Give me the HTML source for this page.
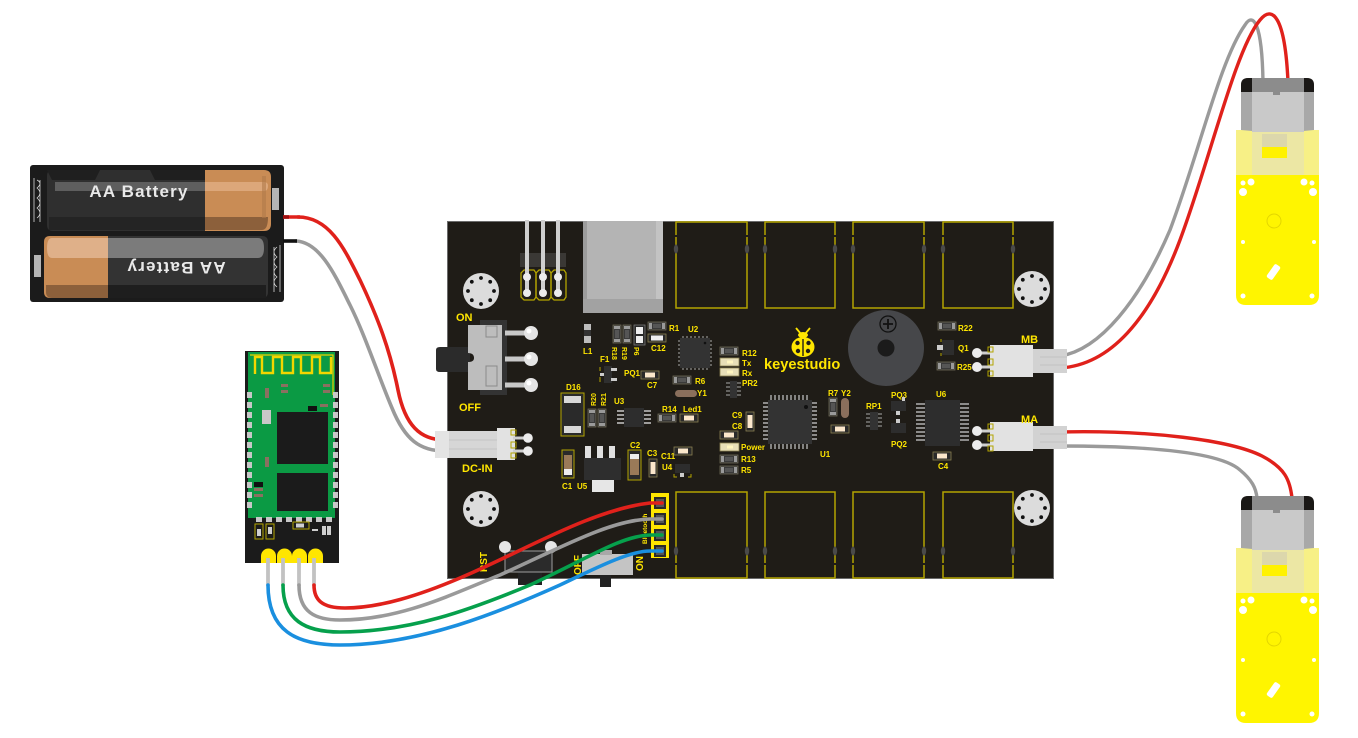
<!DOCTYPE html>
<html><head><meta charset="utf-8"><style>
html,body{margin:0;padding:0;background:#fff;}
svg{display:block;}
text{font-family:"Liberation Sans",sans-serif;}
.y{fill:#ffe600;font-weight:bold;font-size:8px;}
.yl{fill:#ffe600;font-weight:bold;font-size:11px;}
</style></head><body>
<svg width="1358" height="738" viewBox="0 0 1358 738" xmlns="http://www.w3.org/2000/svg">
<defs>
<g id="hole">
<circle r="18" fill="#dcdcdc"/>
<g fill="#111">
<circle cx="13" cy="0" r="1.9"/><circle cx="9.2" cy="9.2" r="1.9"/><circle cx="0" cy="13" r="1.9"/><circle cx="-9.2" cy="9.2" r="1.9"/>
<circle cx="-13" cy="0" r="1.9"/><circle cx="-9.2" cy="-9.2" r="1.9"/><circle cx="0" cy="-13" r="1.9"/><circle cx="9.2" cy="-9.2" r="1.9"/>
</g>
</g>
<g id="res">
<rect x="0" y="0" width="18" height="8" fill="#3a3a3a" stroke="#6e6a55" stroke-width="0.8"/>
<rect x="1" y="1" width="3" height="6" fill="#9a9a9a"/><rect x="14" y="1" width="3" height="6" fill="#9a9a9a"/>
<rect x="5" y="2" width="8" height="4" fill="#555"/>
</g>
<g id="resv">
<rect x="0" y="0" width="8" height="18" fill="#3a3a3a" stroke="#6e6a55" stroke-width="0.8"/>
<rect x="1" y="1" width="6" height="3" fill="#9a9a9a"/><rect x="1" y="14" width="6" height="3" fill="#9a9a9a"/>
<rect x="2" y="5" width="4" height="8" fill="#555"/>
</g>
<g id="cap">
<rect x="0" y="0" width="18" height="8" fill="#2a2a2a" stroke="#8a8050" stroke-width="0.8"/>
<rect x="4" y="1.5" width="10" height="5" fill="#fbe7cb"/>
</g>
<g id="led">
<rect x="0" y="0" width="19" height="8" fill="#e8dfb8" stroke="#8a8050" stroke-width="0.8"/>
<rect x="7" y="2.5" width="6" height="3" fill="#fff6c0"/>
</g>
<g id="motor">
<rect x="1236" y="130" width="83" height="46" fill="#f7f086"/>
<path d="M1236,175 H1319 V295 Q1319,305 1309,305 H1246 Q1236,305 1236,295 Z" fill="#fff500"/>
<path d="M1241,130 V85 Q1241,78 1248,78 H1307 Q1314,78 1314,85 V130 Q1277,134 1241,130 Z" fill="#a8a8a8"/>
<rect x="1252" y="92" width="52" height="40" fill="#c9c9c9"/>
<rect x="1252" y="78" width="52" height="14" fill="#8c8c8c"/>
<path d="M1241,92 V85 Q1241,78 1248,78 H1252 V92 Z" fill="#1a1816"/>
<path d="M1314,92 V85 Q1314,78 1307,78 H1304 V92 Z" fill="#1a1816"/>
<rect x="1273" y="92" width="7" height="3" fill="#8c8c8c"/>
<rect x="1252" y="132" width="52" height="43" fill="#ece7a4"/>
<rect x="1262" y="134" width="25" height="13" fill="#dcd7ac"/>
<rect x="1262" y="147" width="25" height="11" fill="#fff200"/>
<g fill="#fff">
<circle cx="1243" cy="183" r="2.5"/><circle cx="1251" cy="182" r="3.5"/><circle cx="1243" cy="192" r="4"/>
<circle cx="1304" cy="182" r="3.5"/><circle cx="1312" cy="183" r="2.5"/><circle cx="1313" cy="192" r="4"/>
<circle cx="1243" cy="242" r="2"/><circle cx="1314" cy="242" r="2"/>
<circle cx="1243" cy="296" r="2.5"/><circle cx="1312" cy="296" r="2.5"/>
<rect x="1270" y="264" width="7" height="16" rx="2" transform="rotate(35 1273.5 272)"/>
</g>
<circle cx="1274" cy="221" r="7" fill="none" stroke="#e3d600" stroke-width="1"/>
</g>
</defs>

<!-- BOARD -->
<rect x="447.5" y="221.5" width="606" height="357" fill="#1f1c17" stroke="#6b6b6b" stroke-width="1"/>

<g fill="none" stroke="#b3a400" stroke-width="1.5">
<rect x="676" y="222" width="71" height="86"/><rect x="765" y="222" width="70" height="86"/>
<rect x="853" y="222" width="71" height="86"/><rect x="943" y="222" width="70" height="86"/>
<rect x="676" y="492" width="71" height="86"/><rect x="765" y="492" width="70" height="86"/>
<rect x="853" y="492" width="71" height="86"/><rect x="943" y="492" width="70" height="86"/>
</g>
<g fill="#4a4a4a">
<ellipse cx="676" cy="249" rx="2.2" ry="4.5"/><ellipse cx="747" cy="249" rx="2.2" ry="4.5"/>
<ellipse cx="765" cy="249" rx="2.2" ry="4.5"/><ellipse cx="835" cy="249" rx="2.2" ry="4.5"/>
<ellipse cx="853" cy="249" rx="2.2" ry="4.5"/><ellipse cx="924" cy="249" rx="2.2" ry="4.5"/>
<ellipse cx="943" cy="249" rx="2.2" ry="4.5"/><ellipse cx="1013" cy="249" rx="2.2" ry="4.5"/>
<ellipse cx="676" cy="551" rx="2.2" ry="4.5"/><ellipse cx="747" cy="551" rx="2.2" ry="4.5"/>
<ellipse cx="765" cy="551" rx="2.2" ry="4.5"/><ellipse cx="835" cy="551" rx="2.2" ry="4.5"/>
<ellipse cx="853" cy="551" rx="2.2" ry="4.5"/><ellipse cx="924" cy="551" rx="2.2" ry="4.5"/>
<ellipse cx="943" cy="551" rx="2.2" ry="4.5"/><ellipse cx="1013" cy="551" rx="2.2" ry="4.5"/>
</g>
<g fill="#1f1c17">
<rect x="674" y="235" width="4" height="2"/><rect x="745" y="235" width="4" height="2"/>
<rect x="763" y="235" width="4" height="2"/><rect x="833" y="235" width="4" height="2"/>
<rect x="851" y="235" width="4" height="2"/><rect x="922" y="235" width="4" height="2"/>
<rect x="941" y="235" width="4" height="2"/><rect x="1011" y="235" width="4" height="2"/>
<rect x="674" y="563" width="4" height="2"/><rect x="745" y="563" width="4" height="2"/>
<rect x="763" y="563" width="4" height="2"/><rect x="833" y="563" width="4" height="2"/>
<rect x="851" y="563" width="4" height="2"/><rect x="922" y="563" width="4" height="2"/>
<rect x="941" y="563" width="4" height="2"/><rect x="1011" y="563" width="4" height="2"/>
</g>

<use href="#hole" x="481" y="291"/>
<use href="#hole" x="481" y="509"/>
<use href="#hole" x="1032" y="289"/>
<use href="#hole" x="1032" y="508"/>

<rect x="520" y="253" width="46" height="14" fill="#3a3835"/>
<g fill="none" stroke="#b3a400" stroke-width="1.3">
<path d="M524,270 H534 L536,273 V297 L534,300 H524 L521,297 V273 Z"/>
<path d="M539,270 H549 L551,273 V297 L549,300 H539 L536,297 V273 Z"/>
<path d="M554,270 H564 L566,273 V297 L564,300 H554 L551,297 V273 Z"/>
</g>
<g stroke="#cfcfcf" stroke-width="4">
<line x1="527" y1="220" x2="527" y2="293"/><line x1="543" y1="220" x2="543" y2="293"/><line x1="558" y1="220" x2="558" y2="293"/>
</g>
<g fill="#ececec">
<circle cx="527" cy="277" r="4"/><circle cx="527" cy="293" r="4"/>
<circle cx="543" cy="277" r="4"/><circle cx="543" cy="293" r="4"/>
<circle cx="558" cy="277" r="4"/><circle cx="558" cy="293" r="4"/>
</g>

<rect x="583" y="221" width="80" height="92" fill="#b4b4b4"/>
<rect x="583" y="221" width="4" height="92" fill="#9c9c9c"/>
<rect x="656" y="221" width="7" height="92" fill="#c3c3c3"/>
<rect x="583" y="299" width="80" height="14" fill="#a2a2a2"/>

<rect x="480" y="320" width="27" height="75" fill="#333"/>
<path d="M436,350 Q436,347 440,347 H470 V372 H440 Q436,372 436,369 Z" fill="#2b2b2b"/>
<path d="M468,325 H502 V390 H468 V362 Q474,362 474,358 Q474,353 468,353 Z" fill="#bdbdbd"/>
<rect x="486" y="326" width="11" height="11" fill="none" stroke="#8a8a8a" stroke-width="1"/>
<rect x="486" y="366" width="11" height="20" fill="none" stroke="#8a8a8a" stroke-width="1"/>
<g stroke="#c8c8c8" stroke-width="5"><line x1="505" y1="333" x2="528" y2="333"/><line x1="505" y1="359" x2="528" y2="359"/><line x1="505" y1="385" x2="528" y2="385"/></g>
<g fill="#e4e4e4"><circle cx="531" cy="333" r="7"/><circle cx="531" cy="359" r="7"/><circle cx="531" cy="385" r="7"/></g>
<g fill="#fff"><circle cx="529" cy="331" r="2.5"/><circle cx="529" cy="357" r="2.5"/><circle cx="529" cy="383" r="2.5"/></g>
<text x="456" y="321" class="yl">ON</text>
<text x="459" y="411" class="yl">OFF</text>

<rect x="584" y="324" width="7" height="19" fill="#bdbdbd"/><rect x="584" y="330" width="7" height="6" fill="#333"/>
<text x="583" y="354" class="y">L1</text>
<use href="#resv" x="613" y="325"/><use href="#resv" x="623" y="325"/>
<rect x="634" y="325" width="11" height="20" fill="#2a2a2a" stroke="#777" stroke-width="0.8"/>
<rect x="636" y="327" width="7" height="7" fill="#eee"/><rect x="636" y="336" width="7" height="7" fill="#eee"/>
<text class="y" transform="translate(612,347) rotate(90)" style="font-size:7px">R18</text>
<text class="y" transform="translate(622,347) rotate(90)" style="font-size:7px">R19</text>
<text class="y" transform="translate(634,347) rotate(90)" style="font-size:7px">P6</text>
<use href="#res" x="648" y="322"/><text x="669" y="331" class="y">R1</text>
<rect x="648" y="334" width="18" height="8" fill="#2a2a2a" stroke="#8a8050" stroke-width="0.8"/><rect x="651" y="335.5" width="12" height="5" fill="#eee"/>
<text x="651" y="351" class="y">C12</text>
<rect x="680" y="338" width="30" height="30" fill="#333"/>
<g stroke="#aaa" stroke-width="1">
<path d="M683,336 V338 M687,336 V338 M691,336 V338 M695,336 V338 M699,336 V338 M703,336 V338 M707,336 V338"/>
<path d="M683,368 V370 M687,368 V370 M691,368 V370 M695,368 V370 M699,368 V370 M703,368 V370 M707,368 V370"/>
<path d="M678,341 H680 M678,345 H680 M678,349 H680 M678,353 H680 M678,357 H680 M678,361 H680 M678,365 H680"/>
<path d="M710,341 H712 M710,345 H712 M710,349 H712 M710,353 H712 M710,357 H712 M710,361 H712 M710,365 H712"/>
</g>
<circle cx="705" cy="343" r="1.3" fill="#111"/>
<text x="688" y="332" class="y">U2</text>
<use href="#res" x="720" y="347"/><text x="742" y="356" class="y">R12</text>
<use href="#led" x="720" y="358"/><text x="742" y="366" class="y">Tx</text>
<use href="#led" x="720" y="368"/><text x="742" y="376" class="y">Rx</text>
<rect x="730" y="381" width="7" height="17" fill="#333"/>
<g stroke="#aaa" stroke-width="1"><path d="M726,383 H730 M726,387 H730 M726,391 H730 M726,395 H730 M737,383 H741 M737,387 H741 M737,391 H741 M737,395 H741"/></g>
<text x="742" y="386" class="y">PR2</text>
<text x="600" y="362" class="y">F1</text>
<rect x="604" y="366" width="8" height="17" fill="#2f2f2f"/>
<path d="M600,367 V371 M600,377 V382" stroke="#b3a400" stroke-width="1"/>
<rect x="611" y="368" width="6" height="3" fill="#ccc"/><rect x="611" y="378" width="6" height="3" fill="#ccc"/><rect x="600" y="373" width="4" height="3" fill="#ccc"/>
<text x="624" y="376" class="y">PQ1</text>
<use href="#cap" x="641" y="371"/><text x="647" y="388" class="y">C7</text>
<use href="#res" x="673" y="376"/><text x="695" y="384" class="y">R6</text>
<rect x="675" y="390" width="22" height="7" rx="3.5" fill="#8a6f5c"/>
<text x="697" y="396" class="y">Y1</text>
<text x="566" y="390" class="y">D16</text>
<rect x="561" y="393" width="23" height="43" fill="#2a2a2a" stroke="#b3a400" stroke-width="1"/>
<rect x="564" y="396" width="17" height="7" fill="#d8d8d8"/><rect x="564" y="426" width="17" height="7" fill="#d8d8d8"/>
<use href="#resv" x="588" y="409"/><use href="#resv" x="598" y="409"/>
<text class="y" transform="translate(596,406) rotate(-90)" style="font-size:7px">R20</text>
<text class="y" transform="translate(606,406) rotate(-90)" style="font-size:7px">R21</text>
<text x="614" y="404" class="y">U3</text>
<rect x="624" y="408" width="20" height="19" fill="#2d2d2d"/>
<g stroke="#c8c8c8" stroke-width="1.6"><path d="M617,411 H624 M617,415 H624 M617,419 H624 M617,423 H624 M644,411 H651 M644,415 H651 M644,419 H651 M644,423 H651"/></g>
<text x="662" y="412" class="y">R14</text><text x="683" y="412" class="y">Led1</text>
<use href="#res" x="658" y="414"/><use href="#cap" x="680" y="414"/>
<rect x="746" y="412" width="8" height="19" fill="#2a2a2a" stroke="#8a8050" stroke-width="0.8"/><rect x="747.5" y="415" width="5" height="13" fill="#fbe7cb"/>
<text x="732" y="418" class="y">C9</text><text x="732" y="429" class="y">C8</text>
<use href="#cap" x="720" y="431"/>
<use href="#led" x="720" y="443"/><text x="741" y="450" class="y">Power</text>
<use href="#res" x="720" y="455"/><text x="741" y="462" class="y">R13</text>
<use href="#res" x="720" y="466"/><text x="741" y="473" class="y">R5</text>
<rect x="768" y="400" width="44" height="44" fill="#333"/>
<g stroke="#b0b0b0" stroke-width="1.4">
<path d="M771,395 V400 M775,395 V400 M779,395 V400 M783,395 V400 M787,395 V400 M791,395 V400 M795,395 V400 M799,395 V400 M803,395 V400 M807,395 V400"/>
<path d="M771,444 V449 M775,444 V449 M779,444 V449 M783,444 V449 M787,444 V449 M791,444 V449 M795,444 V449 M799,444 V449 M803,444 V449 M807,444 V449"/>
<path d="M763,403 H768 M763,407 H768 M763,411 H768 M763,415 H768 M763,419 H768 M763,423 H768 M763,427 H768 M763,431 H768 M763,435 H768 M763,439 H768"/>
<path d="M812,403 H817 M812,407 H817 M812,411 H817 M812,415 H817 M812,419 H817 M812,423 H817 M812,427 H817 M812,431 H817 M812,435 H817 M812,439 H817"/>
</g>
<circle cx="806" cy="407" r="2" fill="#111"/>
<text x="820" y="457" class="y">U1</text>
<text x="828" y="396" class="y">R7</text><text x="841" y="396" class="y">Y2</text>
<use href="#resv" x="829" y="398"/>
<rect x="841" y="398" width="8" height="20" rx="4" fill="#8a6f5c"/>
<use href="#cap" x="831" y="425"/>
<text x="866" y="409" class="y">RP1</text>
<rect x="870" y="412" width="8" height="18" fill="#333"/>
<g stroke="#aaa" stroke-width="1"><path d="M866,414 H870 M866,418 H870 M866,422 H870 M866,426 H870 M878,414 H882 M878,418 H882 M878,422 H882 M878,426 H882"/></g>
<text x="891" y="398" class="y">PQ3</text>
<rect x="891" y="401" width="15" height="10" fill="#2d2d2d"/><rect x="896" y="411" width="4" height="4" fill="#ccc"/><rect x="902" y="397" width="3" height="4" fill="#ccc"/>
<rect x="891" y="423" width="15" height="10" fill="#2d2d2d"/><rect x="896" y="419" width="4" height="4" fill="#ccc"/>
<text x="891" y="447" class="y">PQ2</text>
<text x="936" y="397" class="y">U6</text>
<rect x="925" y="400" width="35" height="46" fill="#2d2d2d"/>
<g stroke="#b0b0b0" stroke-width="1.6">
<path d="M916,404 H925 M916,408 H925 M916,412 H925 M916,416 H925 M916,420 H925 M916,424 H925 M916,428 H925 M916,432 H925 M916,436 H925 M916,440 H925"/>
<path d="M960,404 H969 M960,408 H969 M960,412 H969 M960,416 H969 M960,420 H969 M960,424 H969 M960,428 H969 M960,432 H969 M960,436 H969 M960,440 H969"/>
</g>
<use href="#cap" x="933" y="452"/><text x="938" y="469" class="y">C4</text>
<use href="#res" x="938" y="322"/><text x="958" y="331" class="y">R22</text>
<rect x="942" y="340" width="12" height="15" fill="#2d2d2d"/><rect x="937" y="345" width="6" height="5" fill="#ccc"/>
<path d="M941,339 V342 M941,353 V356" stroke="#b3a400" stroke-width="1"/>
<text x="958" y="351" class="y">Q1</text>
<use href="#res" x="937" y="362"/><text x="957" y="370" class="y">R25</text>
<rect x="562" y="450" width="12" height="28" fill="#2a2a2a" stroke="#b3a400" stroke-width="1"/>
<rect x="564" y="455" width="8" height="18" fill="#9a7a58"/><rect x="564" y="469" width="8" height="6" fill="#eee"/>
<text x="562" y="489" class="y">C1</text><text x="577" y="489" class="y">U5</text>
<g fill="#e0e0e0"><rect x="585" y="446" width="6" height="13"/><rect x="597" y="446" width="6" height="13"/><rect x="609" y="446" width="6" height="13"/></g>
<rect x="584" y="458" width="37" height="22" fill="#2e2e2e"/>
<rect x="592" y="480" width="22" height="12" fill="#e6e6e6"/>
<text x="630" y="448" class="y">C2</text>
<rect x="628" y="450" width="13" height="30" fill="#2a2a2a" stroke="#b3a400" stroke-width="1"/>
<rect x="630" y="455" width="9" height="20" fill="#9a7a58"/><rect x="630" y="454" width="9" height="5" fill="#eee"/>
<text x="647" y="456" class="y">C3</text>
<rect x="649" y="459" width="8" height="18" fill="#2a2a2a" stroke="#8a8050" stroke-width="0.8"/><rect x="650.5" y="462" width="5" height="12" fill="#fbe7cb"/>
<text x="661" y="459" class="y">C11</text><text x="662" y="470" class="y">U4</text>
<use href="#cap" x="674" y="447"/>
<rect x="675" y="464" width="15" height="9" fill="#2d2d2d"/><rect x="680" y="473" width="4" height="4" fill="#ccc"/>
<path d="M674,474 V477 H677 M691,474 V477 H688" stroke="#b3a400" stroke-width="1" fill="none"/>

<circle cx="886" cy="348" r="38" fill="#46474a"/>
<circle cx="886" cy="348" r="8.5" fill="#1b1b1b"/>
<circle cx="888" cy="324" r="8" fill="none" stroke="#111" stroke-width="1.3"/>
<path d="M883,324 H893 M888,319 V329" stroke="#111" stroke-width="1.8"/>
<g fill="#ffe600">
<path d="M796,328 L801,334 M810,328 L805,334" stroke="#ffe600" stroke-width="1.8"/>
<ellipse cx="803" cy="335" rx="5" ry="3"/>
<ellipse cx="803" cy="347" rx="11.5" ry="10"/>
</g>
<g fill="#1f1c17">
<circle cx="797.5" cy="343" r="2.2"/><circle cx="808.5" cy="343" r="2.2"/>
<circle cx="798" cy="351" r="2.2"/><circle cx="808" cy="351" r="2.2"/>
<rect x="802.3" y="339" width="1.4" height="17"/>
</g>
<text x="764" y="369" style="font-size:14.6px;font-weight:bold;fill:#ffe600">keyestudio</text>

<rect x="518" y="570" width="24" height="15" fill="#222"/>
<rect x="505" y="551" width="47" height="21" fill="#2b2b2b" stroke="#8a8a8a" stroke-width="1.2"/>
<circle cx="505" cy="547" r="6" fill="#e6e6e6"/><circle cx="551" cy="547" r="6" fill="#e6e6e6"/>
<text class="y" transform="translate(487,572) rotate(-90)" style="font-size:10px">RST</text>
<rect x="600" y="573" width="11" height="14" fill="#222"/>
<rect x="582" y="554" width="51" height="21" fill="#c4c4c4"/>
<rect x="600" y="550" width="12" height="5" fill="#a8a8a8"/>
<text class="y" transform="translate(581,575) rotate(-90)" style="font-size:10px">OFF</text>
<text class="y" transform="translate(643,571) rotate(-90)" style="font-size:10px">ON</text>
<text class="y" transform="translate(647,544) rotate(-90)" style="font-size:6.5px">Bluetooth</text>
<rect x="651" y="493" width="18" height="65" fill="#ffe600"/>
<g fill="#2a2a2a"><rect x="654" y="497" width="12" height="12"/><rect x="654" y="513" width="12" height="12"/><rect x="654" y="529" width="12" height="12"/><rect x="654" y="545" width="12" height="12"/></g>
<g fill="#555"><rect x="656" y="499" width="8" height="8"/><rect x="656" y="515" width="8" height="8"/><rect x="656" y="531" width="8" height="8"/><rect x="656" y="547" width="8" height="8"/></g>

<g fill="none" stroke-width="3.6" stroke-linecap="round">
<path d="M296,241 C320,242 335,275 350,305 C365,335 378,375 392,408 C405,440 420,451 445,451" stroke="#9a9a9a"/>
<path d="M298,217 C330,217 345,250 360,280 C378,318 390,350 398,390 C405,425 420,440 445,440" stroke="#e0211b"/>
</g>

<rect x="435" y="431" width="62" height="27" fill="#d6d6d6"/>
<rect x="435" y="431" width="14" height="27" fill="#e4e4e4"/>
<path d="M449,440 H497 M449,449 H497" stroke="#c4c4c4" stroke-width="1"/>
<path d="M497,428 H515 V460 H497 Z" fill="#e2e2e2"/>
<g fill="none" stroke="#b3a400" stroke-width="1"><rect x="511" y="430" width="5" height="5"/><rect x="511" y="442" width="5" height="6"/><rect x="511" y="453" width="5" height="5"/></g>
<g stroke="#cfcfcf" stroke-width="3"><line x1="513" y1="438" x2="527" y2="438"/><line x1="513" y1="451" x2="527" y2="451"/></g>
<g fill="#ececec"><circle cx="528" cy="438" r="4.8"/><circle cx="528" cy="451" r="4.8"/></g>
<text x="462" y="472" class="yl">DC-IN</text>

<g fill="none" stroke-width="3.4" stroke-linecap="round">
<path d="M1060,356 C1100,350 1140,300 1170,230 C1200,150 1220,60 1245,25 C1253,12 1262,22 1263,82" stroke="#9a9a9a"/>
<path d="M1060,368 C1110,365 1150,320 1180,240 C1210,160 1235,50 1260,20 C1272,5 1285,15 1288,82" stroke="#e0211b"/>
<path d="M1060,432 C1150,430 1230,440 1262,456 C1285,468 1290,480 1292,498" stroke="#e0211b"/>
<path d="M1060,446 C1150,446 1220,452 1240,470 C1252,480 1256,488 1257,498" stroke="#9a9a9a"/>
</g>

<g>
<g stroke="#cfcfcf" stroke-width="3"><line x1="977" y1="353" x2="995" y2="353"/><line x1="977" y1="367" x2="995" y2="367"/></g>
<g fill="#ececec"><circle cx="977" cy="353" r="5"/><circle cx="977" cy="367" r="5"/></g>
<path d="M990,345 H1033 V377 H990 Z" fill="#e2e2e2"/>
<rect x="1033" y="349" width="34" height="24" fill="#d2d2d2"/>
<path d="M1040,357 H1067 M1040,365 H1067" stroke="#c2c2c2" stroke-width="1"/>
<g fill="none" stroke="#b3a400" stroke-width="1"><rect x="988" y="347" width="5" height="5"/><rect x="988" y="359" width="5" height="6"/><rect x="988" y="371" width="5" height="5"/></g>
<text x="1021" y="343" class="yl">MB</text>
</g>
<g>
<g stroke="#cfcfcf" stroke-width="3"><line x1="977" y1="431" x2="995" y2="431"/><line x1="977" y1="445" x2="995" y2="445"/></g>
<g fill="#ececec"><circle cx="977" cy="431" r="5"/><circle cx="977" cy="445" r="5"/></g>
<path d="M990,422 H1033 V451 H990 Z" fill="#e2e2e2"/>
<rect x="1033" y="426" width="34" height="23" fill="#d2d2d2"/>
<path d="M1040,434 H1067 M1040,442 H1067" stroke="#c2c2c2" stroke-width="1"/>
<g fill="none" stroke="#b3a400" stroke-width="1"><rect x="988" y="424" width="5" height="5"/><rect x="988" y="435" width="5" height="6"/><rect x="988" y="446" width="5" height="5"/></g>
<text x="1021" y="423" class="yl">MA</text>
</g>

<use href="#motor"/>
<use href="#motor" y="418"/>

<rect x="245" y="351" width="94" height="212" fill="#1b1b1b"/>
<rect x="248" y="352" width="87" height="166" fill="#0b9a44"/>
<path d="M250,355 H333 V395" fill="none" stroke="#e8d200" stroke-width="1.2"/>
<path d="M255,374 V357 H262 V373 H273 V357 H282 V373 H293 V357 H301 V373 H312 V357 H320 V373 H331 V357" fill="none" stroke="#f2d600" stroke-width="2.4"/>
<g fill="#c8c8c8">
<rect x="247" y="392" width="5" height="6"/><rect x="247" y="402" width="5" height="6"/><rect x="247" y="412" width="5" height="6"/><rect x="247" y="422" width="5" height="6"/><rect x="247" y="432" width="5" height="6"/><rect x="247" y="442" width="5" height="6"/><rect x="247" y="452" width="5" height="6"/><rect x="247" y="462" width="5" height="6"/><rect x="247" y="472" width="5" height="6"/><rect x="247" y="482" width="5" height="6"/><rect x="247" y="492" width="5" height="6"/><rect x="247" y="502" width="5" height="6"/>
<rect x="333" y="392" width="5" height="6"/><rect x="333" y="402" width="5" height="6"/><rect x="333" y="412" width="5" height="6"/><rect x="333" y="422" width="5" height="6"/><rect x="333" y="432" width="5" height="6"/><rect x="333" y="442" width="5" height="6"/><rect x="333" y="452" width="5" height="6"/><rect x="333" y="462" width="5" height="6"/><rect x="333" y="472" width="5" height="6"/><rect x="333" y="482" width="5" height="6"/><rect x="333" y="492" width="5" height="6"/><rect x="333" y="502" width="5" height="6"/>
<rect x="256" y="517" width="6" height="5"/><rect x="266" y="517" width="6" height="5"/><rect x="276" y="517" width="6" height="5"/><rect x="286" y="517" width="6" height="5"/><rect x="296" y="517" width="6" height="5"/><rect x="306" y="517" width="6" height="5"/><rect x="316" y="517" width="6" height="5"/><rect x="326" y="517" width="6" height="5"/>
<rect x="262" y="410" width="9" height="14"/>
</g>
<rect x="277" y="412" width="51" height="52" fill="#1b1b1b"/>
<rect x="277" y="473" width="51" height="38" fill="#1b1b1b"/>
<g fill="#8a7060"><rect x="265" y="388" width="4" height="10"/><rect x="281" y="384" width="7" height="3"/><rect x="281" y="390" width="7" height="3"/><rect x="323" y="384" width="7" height="3"/><rect x="323" y="390" width="7" height="3"/><rect x="320" y="404" width="8" height="3"/><rect x="265" y="457" width="4" height="10"/><rect x="254" y="488" width="9" height="3"/><rect x="254" y="494" width="9" height="3"/></g>
<rect x="308" y="406" width="9" height="5" fill="#111"/><rect x="254" y="482" width="9" height="5" fill="#111"/>
<g fill="none" stroke="#b3a400" stroke-width="1"><rect x="255" y="524" width="8" height="15"/><rect x="266" y="524" width="8" height="15"/><rect x="293" y="522" width="16" height="7"/></g>
<g fill="#cfcfcf"><rect x="257" y="529" width="4" height="7"/><rect x="268" y="527" width="4" height="7"/><rect x="296" y="523.5" width="8" height="4"/><rect x="322" y="526" width="4" height="9"/><rect x="327" y="526" width="4" height="9"/><rect x="312" y="529" width="6" height="2"/></g>
<g fill="#ffe600">
<path d="M261,556 A7.5,7.5 0 0 1 276,556 V563 H261 Z"/>
<path d="M277,556 A7.5,7.5 0 0 1 292,556 V563 H277 Z"/>
<path d="M292,556 A7.5,7.5 0 0 1 307,556 V563 H292 Z"/>
<path d="M308,556 A7.5,7.5 0 0 1 323,556 V563 H308 Z"/>
</g>
<g stroke="#c2c2c2" stroke-width="3.8"><line x1="268" y1="558" x2="268" y2="586"/><line x1="283" y1="558" x2="283" y2="586"/><line x1="299" y1="558" x2="299" y2="586"/><line x1="314" y1="558" x2="314" y2="586"/></g>

<g fill="none" stroke-width="3.6" stroke-linecap="round">
<path d="M268,585 C268,630 295,645 340,645 C420,645 500,612 560,585 C600,566 630,551 650,551 L662,551" stroke="#1a8fdf"/>
<path d="M283,585 C283,620 305,632 340,632 C410,632 470,610 530,585 C585,560 620,536 650,535 L662,535" stroke="#06a04c"/>
<path d="M299,585 C299,612 315,620 340,620 C400,620 450,595 500,575 C560,548 610,520 650,519 L662,519" stroke="#9a9a9a"/>
<path d="M314,585 C314,600 322,608 345,608 C380,608 420,595 460,578 C520,553 590,510 650,503 L662,503" stroke="#e0211b"/>
</g>

<rect x="30" y="165" width="254" height="137" rx="3" fill="#1b1b1b"/>
<path d="M53,170 H205 V231 H53 Q47,231 47,225 V176 Q47,170 53,170 Z" fill="#2f2f2f"/>
<path d="M205,170 H264 Q271,170 271,177 V224 Q271,231 264,231 H205 Z" fill="#c98c55"/>
<rect x="55" y="182" width="150" height="9" fill="#5e5e5e"/>
<path d="M205,182 H264 Q268,182 268,186 Q268,191 264,191 H205 Z" fill="#dca77a"/>
<rect x="49" y="217" width="156" height="13" fill="#242424"/>
<path d="M205,217 H268 Q268,230 262,230 H205 Z" fill="#8c603b"/>
<path d="M47,170 H100 L95,180 H52 Z M150,170 H205 V180 H155 Z" fill="#1f1f1f"/>
<rect x="262" y="176" width="4" height="42" fill="#b07a4a" opacity="0.6"/>
<text x="139" y="197" text-anchor="middle" style="font-size:17px;font-weight:bold;fill:#e9e9e9;letter-spacing:1.2px">AA Battery</text>
<path d="M108,236 H262 Q268,236 268,242 V292 Q268,298 262,298 H108 Z" fill="#333"/>
<path d="M50,236 H108 V298 H50 Q44,298 44,292 V242 Q44,236 50,236 Z" fill="#c98c55"/>
<path d="M108,238 H258 Q264,238 264,248 Q264,258 258,258 H108 Z" fill="#7b7b7b"/>
<path d="M52,238 H108 V258 H52 Q47,258 47,248 Q47,238 52,238 Z" fill="#dfb089"/>
<rect x="108" y="285" width="158" height="13" fill="#1e1e1e"/>
<path d="M46,285 H108 V298 H52 Q46,298 46,292 Z" fill="#8c603b"/>
<text x="176" y="274" text-anchor="middle" transform="rotate(180 176 268)" style="font-size:17px;font-weight:bold;fill:#e9e9e9;letter-spacing:1.2px">AA Battery</text>
<path d="M34,178 V222 M37,180 Q43,183 37,188 Q43,193 37,198 Q43,203 37,208 Q43,213 37,218 M40,180 V222" fill="none" stroke="#d8d8d8" stroke-width="0.8"/>
<path d="M280,245 V292 M277,247 Q271,252 277,257 Q271,262 277,267 Q271,272 277,277 Q271,282 277,287 M274,247 V292" fill="none" stroke="#d8d8d8" stroke-width="0.8"/>
<rect x="34" y="255" width="7" height="22" fill="#b5b5b5"/>
<rect x="272" y="188" width="7" height="22" fill="#b5b5b5"/>
<line x1="283" y1="217" x2="300" y2="217" stroke="#e0211b" stroke-width="3.6"/>
<line x1="283" y1="217" x2="289" y2="217" stroke="#a01010" stroke-width="3.6"/>
<line x1="283" y1="241" x2="297" y2="241" stroke="#111" stroke-width="3.6"/>
</svg>
</body></html>
